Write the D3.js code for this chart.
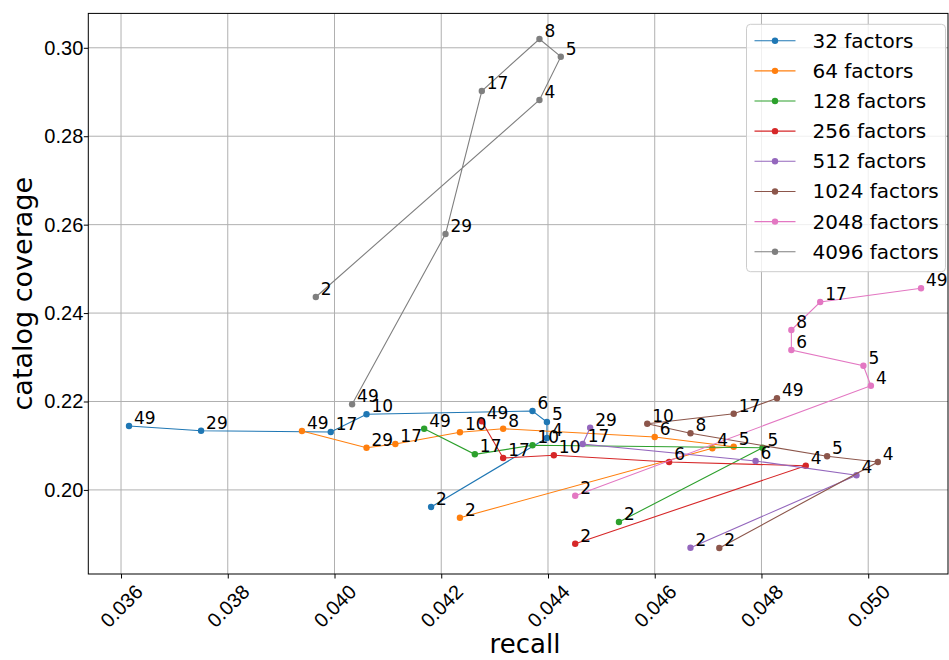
<!DOCTYPE html>
<html>
<head>
<meta charset="utf-8">
<script src="https://cdn.jsdelivr.net/npm/d3@7"></script>
<style>
  body { margin: 0; background: #fff; }
  svg { font-family: "DejaVu Sans", sans-serif; }
</style>
</head>
<body>
<svg width="949" height="660"></svg>
<script>
// series names and colours (matplotlib tab10)
var factors = ["32 factors", "64 factors", "128 factors", "256 factors",
               "512 factors", "1024 factors", "2048 factors", "4096 factors"];
var colors = ["#1f77b4", "#ff7f0e", "#2ca02c", "#d62728",
              "#9467bd", "#8c564b", "#e377c2", "#7f7f7f"];

// point labels (iterations), recall and catalog coverage per series
var labels32 = [2, 4, 5, 6, 10, 17, 29, 49];
var recall32 = [0.04181, 0.04398, 0.04398, 0.04371, 0.0406, 0.03993, 0.0375, 0.03615];
var cover32  = [0.19613, 0.21174, 0.21536, 0.21785, 0.2171, 0.2131, 0.21339, 0.21445];

var labels64 = [2, 4, 5, 6, 8, 10, 17, 29, 49];
var recall64 = [0.04235, 0.04708, 0.04748, 0.046, 0.04316, 0.04235, 0.04114, 0.0406, 0.03939];
var cover64  = [0.19371, 0.20941, 0.20977, 0.21197, 0.21384, 0.21303, 0.21038, 0.20955, 0.21332];

var labels128 = [2, 5, 10, 17, 49];
var recall128 = [0.04533, 0.04802, 0.04371, 0.04263, 0.04168];
var cover128  = [0.19274, 0.20955, 0.21009, 0.20805, 0.21384];

var labels256 = [2, 4, 6, 10, 17, 49];
var recall256 = [0.04451, 0.04883, 0.04627, 0.04411, 0.04316, 0.04276];
var cover256  = [0.18783, 0.20547, 0.20631, 0.20783, 0.20722, 0.21552];

var labels512 = [2, 4, 6, 17, 29];
var recall512 = [0.04667, 0.04978, 0.04789, 0.04465, 0.04479];
var cover512  = [0.18693, 0.2033, 0.20654, 0.21038, 0.21407];

var labels1024 = [2, 4, 5, 8, 10, 17, 49];
var recall1024 = [0.04721, 0.05018, 0.04923, 0.04667, 0.04586, 0.04748, 0.04829];
var cover1024  = [0.18686, 0.20631, 0.2076, 0.2128, 0.21497, 0.21724, 0.22072];

var labels2048 = [2, 4, 5, 6, 8, 17, 49];
var recall2048 = [0.04451, 0.05005, 0.04991, 0.04856, 0.04856, 0.0491, 0.05099];
var cover2048  = [0.19869, 0.22357, 0.22809, 0.23164, 0.23617, 0.2425, 0.2456];

var labels4096 = [2, 4, 5, 8, 17, 29, 49];
var recall4096 = [0.03965, 0.04384, 0.04424, 0.04384, 0.04276, 0.04208, 0.04033];
var cover4096  = [0.24363, 0.28819, 0.29799, 0.30199, 0.29023, 0.25788, 0.21936];

var xTicks = [0.036, 0.038, 0.040, 0.042, 0.044, 0.046, 0.048, 0.050];
var yTicks = [0.20, 0.22, 0.24, 0.26, 0.28, 0.30];

var allLabels = [labels32, labels64, labels128, labels256, labels512, labels1024, labels2048, labels4096];
var allRecall = [recall32, recall64, recall128, recall256, recall512, recall1024, recall2048, recall4096];
var allCover  = [cover32, cover64, cover128, cover256, cover512, cover1024, cover2048, cover4096];

var series = factors.map(function(name, i) {
  return {
    name: name,
    color: colors[i],
    points: allLabels[i].map(function(l, j) {
      return {label: l, x: allRecall[i][j], y: allCover[i][j]};
    })
  };
});

var svg = d3.select("svg"),
    margin = {top: 13.4, right: 1, bottom: 86, left: 88.3},
    width = +svg.attr("width") - margin.left - margin.right,
    height = +svg.attr("height") - margin.top - margin.bottom;

var x = d3.scaleLinear().domain([0.035387, 0.051495]).range([0, width]),
    y = d3.scaleLinear().domain([0.18098, 0.30778]).range([height, 0]);

var g = svg.append("g")
    .attr("transform", "translate(" + margin.left + "," + margin.top + ")");

// grid
g.selectAll(".gx").data(xTicks).enter().append("line")
    .attr("x1", function(d) { return x(d); }).attr("x2", function(d) { return x(d); })
    .attr("y1", 0).attr("y2", height)
    .attr("stroke", "#b0b0b0").attr("stroke-width", 1);
g.selectAll(".gy").data(yTicks).enter().append("line")
    .attr("y1", function(d) { return y(d); }).attr("y2", function(d) { return y(d); })
    .attr("x1", 0).attr("x2", width)
    .attr("stroke", "#b0b0b0").attr("stroke-width", 1);

// x axis
var xAxis = g.append("g")
    .attr("transform", "translate(0," + height + ")")
    .call(d3.axisBottom(x).tickValues(xTicks).tickSize(4.5).tickFormat(d3.format(".3f")));
xAxis.select(".domain").remove();
xAxis.selectAll("text")
    .attr("font-size", 20)
    .attr("fill", "#000")
    .attr("text-anchor", "middle")
    .attr("dy", "0.35em")
    .attr("y", 0)
    .attr("transform", "translate(0,32) rotate(-45)");

// y axis
var yAxis = g.append("g")
    .call(d3.axisLeft(y).tickValues(yTicks).tickSize(4.5).tickFormat(d3.format(".2f")));
yAxis.select(".domain").remove();
yAxis.selectAll("text").attr("font-size", 20).attr("fill", "#000").attr("x", -5);

// frame
g.append("rect")
    .attr("width", width).attr("height", height)
    .attr("fill", "none").attr("stroke", "#000").attr("stroke-width", 1);

// axis titles
svg.append("text")
    .attr("x", 525).attr("y", 653)
    .attr("text-anchor", "middle").attr("font-size", 26)
    .text("recall");
svg.append("text")
    .attr("transform", "translate(32," + (margin.top + height / 2) + ") rotate(-90)")
    .attr("text-anchor", "middle").attr("font-size", 27)
    .text("catalog coverage");

// lines and markers
var line = d3.line()
    .x(function(d) { return x(d.x); })
    .y(function(d) { return y(d.y); });

series.forEach(function(s) {
  g.append("path")
      .datum(s.points)
      .attr("fill", "none")
      .attr("stroke", s.color)
      .attr("stroke-width", 1.1)
      .attr("d", line);
  g.selectAll(null).data(s.points).enter().append("circle")
      .attr("cx", function(d) { return x(d.x); })
      .attr("cy", function(d) { return y(d.y); })
      .attr("r", 3.2)
      .attr("fill", s.color);
});

// point labels
series.forEach(function(s) {
  g.selectAll(null).data(s.points).enter().append("text")
      .attr("x", function(d) { return x(d.x) + 5; })
      .attr("y", function(d) { return y(d.y) - 2; })
      .attr("font-size", 17)
      .text(function(d) { return d.label; });
});

// legend
var legend = svg.append("g").attr("transform", "translate(746.5,24.3)");
legend.append("rect")
    .attr("width", 199).attr("height", 247.4)
    .attr("rx", 4)
    .attr("fill", "#fff").attr("fill-opacity", 0.8)
    .attr("stroke", "#cccccc").attr("stroke-width", 1);
series.forEach(function(s, i) {
  var row = legend.append("g").attr("transform", "translate(0," + (16.4 + i * 30.15) + ")");
  row.append("line")
      .attr("x1", 8).attr("x2", 49)
      .attr("stroke", s.color).attr("stroke-width", 1.1);
  row.append("circle").attr("cx", 28.5).attr("r", 3.2).attr("fill", s.color);
  row.append("text")
      .attr("x", 66).attr("dy", "0.35em")
      .attr("font-size", 20)
      .text(s.name);
});
</script>
</body>
</html>
